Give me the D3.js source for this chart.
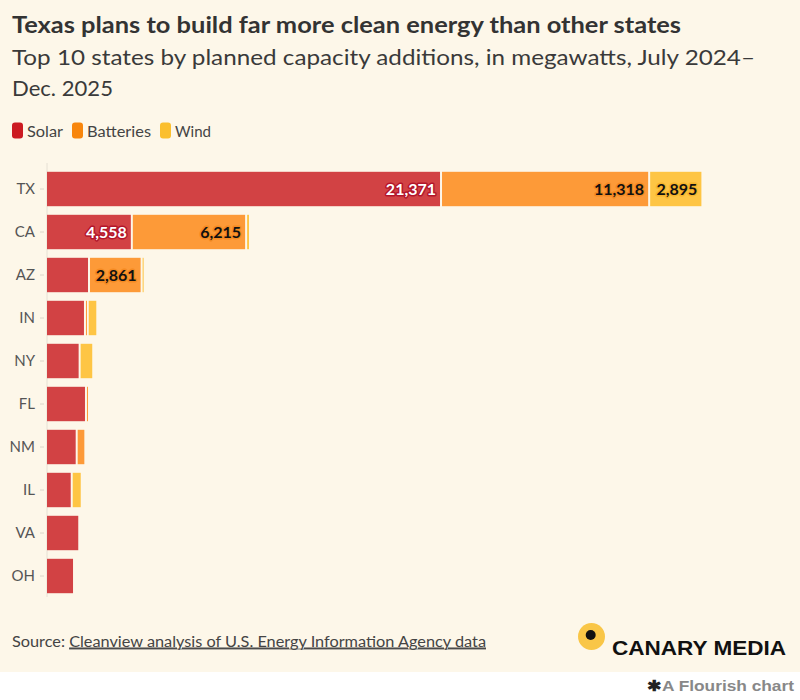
<!DOCTYPE html>
<html>
<head>
<meta charset="utf-8">
<script src="https://cdn.jsdelivr.net/npm/d3@7"></script>
<style>
  html, body { margin: 0; padding: 0; background: #ffffff; }
  svg { display: block; }
</style>
</head>
<body>
<svg id="chart" width="800" height="700"></svg>
<script>
// ---- data ----
const states = ["TX", "CA", "AZ", "IN", "NY", "FL", "NM", "IL", "VA", "OH"];
const seriesNames = ["Solar", "Batteries", "Wind"];
const solar     = [21371, 4558, 2230, 2010, 1720, 2065, 1560, 1290, 1700, 1415];
const batteries = [11318, 6215, 2861,  150,    0,   80,  470,    0,    0,    0];
const wind      = [ 2895,  210,  160,  520,  740,    0,    0,  545,    0,    0];
const seriesColors = ["#d24244", "#fd9a38", "#fec544"];
const legendColors = ["#cc1b22", "#f8860d", "#fbbf2e"];
const labelFill   = ["#ffffff", "#111111", "#111111"];
const labelHalo   = ["#b3152a", "#f58a22", "#f7b52c"];

const titleText = "Texas plans to build far more clean energy than other states";
const subtitleLines = ["Top 10 states by planned capacity additions, in megawatts, July 2024–", "Dec. 2025"];
const sourceLead = "Source: ";
const sourceLink = "Cleanview analysis of U.S. Energy Information Agency data";

// ---- setup ----
const svg = d3.select("#chart");
const FONT = "'Source Sans Pro', Lato, 'Open Sans', sans-serif";
svg.append("rect").attr("x", 0).attr("y", 0).attr("width", 800).attr("height", 672).attr("fill", "#fdf7e9");

function fitText(sel, target) {
  const n = sel.node();
  const w = n.getComputedTextLength();
  if (w > 0) sel.attr("textLength", target).attr("lengthAdjust", "spacingAndGlyphs");
}

// Title
const t = svg.append("text").attr("x", 12).attr("y", 33)
  .attr("font-family", FONT).attr("font-weight", 700).attr("font-size", 23)
  .attr("fill", "#333333").text(titleText);
fitText(t, 669);

subtitleLines.forEach((s, i) => {
  const st = svg.append("text").attr("x", 12).attr("y", 65 + i * 31)
    .attr("font-family", FONT).attr("font-weight", 400).attr("font-size", 22)
    .attr("fill", "#3a3a3a").text(s);
  if (i === 0) fitText(st, 743);
  else fitText(st, 101);
});

// Legend
const legendX = [12, 72, 160];
const legendW = [36, 64, 36];
seriesNames.forEach((name, i) => {
  svg.append("rect").attr("x", legendX[i]).attr("y", 122.5).attr("width", 11).attr("height", 16)
    .attr("rx", 3).attr("fill", legendColors[i]);
  const lt = svg.append("text").attr("x", legendX[i] + 15).attr("y", 136.5)
    .attr("font-family", FONT).attr("font-size", 15.5).attr("fill", "#444").text(name);
  fitText(lt, legendW[i]);
});

// ---- scales ----
const rows = states.map((s, i) => ({ state: s, values: [solar[i], batteries[i], wind[i]] }));
const maxTotal = d3.max(rows, r => d3.sum(r.values));
const x = d3.scaleLinear().domain([0, maxTotal]).range([47, 701.4]);
const y = d3.scaleBand().domain(states).range([167.5, 597.5]).paddingInner(0.2).paddingOuter(0.1);

// axis line
svg.append("line").attr("x1", 47).attr("x2", 47).attr("y1", 163).attr("y2", 597)
  .attr("stroke", "#e6e0d4").attr("stroke-width", 1);

const yAxis = d3.axisLeft(y).tickSize(4).tickPadding(5);
const ga = svg.append("g").attr("transform", "translate(44,0)").call(yAxis);
ga.select(".domain").remove();
ga.selectAll(".tick line").attr("stroke", "#dcd6ca");
ga.selectAll(".tick text").attr("font-family", FONT).attr("font-size", 15).attr("fill", "#555");

// bars
const GAP = 2;
const stack = d3.stack().keys([0, 1, 2]).value((d, k) => d.values[k]);
const stacked = stack(rows);
const gBars = svg.append("g");
stacked.forEach((layer, k) => {
  gBars.selectAll(null).data(layer.filter(d => d[1] - d[0] > 0)).enter().append("rect")
    .attr("x", d => x(d[0]) + (d[0] > 0 ? GAP : 0))
    .attr("y", d => y(d.data.state))
    .attr("width", d => Math.max(1, x(d[1]) - x(d[0]) - (d[0] > 0 ? GAP : 0)))
    .attr("height", y.bandwidth())
    .attr("fill", seriesColors[k]);
});

// value labels
const fmt = d3.format(",");
stacked.forEach((layer, k) => {
  layer.forEach(d => {
    const v = d[1] - d[0];
    if (v <= 0) return;
    const segW = x(d[1]) - x(d[0]);
    const lbl = svg.append("text")
      .attr("x", x(d[1]) - 4)
      .attr("y", y(d.data.state) + y.bandwidth() / 2 + 5.5)
      .attr("text-anchor", "end")
      .attr("font-family", FONT).attr("font-weight", 700).attr("font-size", 16)
      .attr("fill", labelFill[k])
      .attr("stroke", labelHalo[k]).attr("stroke-width", 3).attr("stroke-linejoin", "round")
      .attr("paint-order", "stroke")
      .text(fmt(v));
    const w = lbl.node().getComputedTextLength();
    if (w + 8 > segW) lbl.remove();
  });
});

// Footer: source
const src = svg.append("text").attr("x", 12).attr("y", 646.5)
  .attr("font-family", FONT).attr("font-size", 15.5).attr("fill", "#444");
src.append("tspan").text(sourceLead);
src.append("tspan").attr("text-decoration", "underline").text(sourceLink);
fitText(src, 474);
svg.append("line").attr("x1", 69).attr("x2", 486).attr("y1", 649).attr("y2", 649)
  .attr("stroke", "#555").attr("stroke-width", 0.8);

// Canary Media logo
svg.append("circle").attr("cx", 591.5).attr("cy", 636.5).attr("r", 13.5).attr("fill", "#f9c647");
svg.append("circle").attr("cx", 590.7).attr("cy", 635).attr("r", 5).attr("fill", "#111");
const logo = svg.append("text").attr("x", 612).attr("y", 654.5)
  .attr("font-family", "'Liberation Sans', Arial, sans-serif").attr("font-weight", 700)
  .attr("font-size", 21).attr("fill", "#111").text("CANARY MEDIA");
fitText(logo, 174);

// Flourish credit
const fl = svg.append("text").attr("x", 647).attr("y", 691)
  .attr("font-family", "'Liberation Sans', Arial, sans-serif").attr("font-weight", 700)
  .attr("font-size", 15).attr("fill", "#888");
fl.append("tspan").attr("fill", "#222").text("✱");
fl.append("tspan").text("A Flourish chart");
fitText(fl, 147);
</script>
</body>
</html>
